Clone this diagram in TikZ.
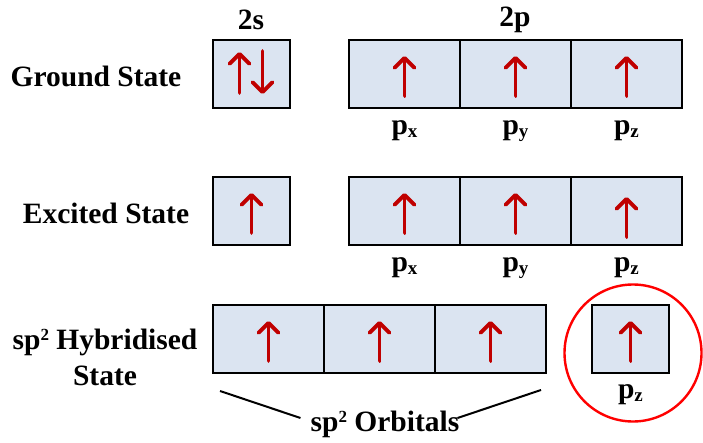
\documentclass[tikz,border=0pt]{standalone}
\usepackage{fontspec}
\setmainfont{Liberation Serif}
\usetikzlibrary{arrows.meta, positioning}
\definecolor{orbfill}{RGB}{219,228,241}
\definecolor{spinred}{RGB}{192,0,0}
\newcommand{\orbsub}[1]{\raisebox{-3pt}{\fontsize{19}{19}\selectfont #1}}
\newcommand{\orbsup}[1]{\raisebox{9pt}{\fontsize{17}{17}\selectfont #1}}
\tikzset{
  orbbox/.style={
    draw, line width=2.2pt, fill=orbfill, inner sep=0pt, outer sep=0pt,
    minimum width=111pt, minimum height=68pt
  },
  orbsingle/.style={orbbox, minimum width=77pt},
  statelabel/.style={
    font=\fontsize{29.5}{36}\selectfont\bfseries, align=center, inner sep=0pt
  },
  orblabel/.style={
    font=\fontsize{29.5}{36}\selectfont\bfseries, inner sep=0pt
  },
  spinarrow/.style={
    -{Straight Barb[length=10pt, width=20pt, round]}, line width=3.8pt,
    color=spinred, line cap=round
  },
  braceline/.style={line width=2pt},
}

\begin{document}
\begin{tikzpicture}[x=1pt, y=-1pt]
  \useasboundingbox (0,0) rectangle (703,443);

  % Headings
  \node[orblabel] (h2s) at (251,20) {2s};
  \node[orblabel] (h2p) at (515,20) {2p};

  % Ground state
  \node[statelabel] (gslbl) at (96,76) {Ground State};
  \node[orbsingle] (gs) at (251.5,74) {};
  \node[orbbox] (gpx) at (404.5,74) {};
  \node[orbbox, right=0pt of gpx] (gpy) {};
  \node[orbbox, right=0pt of gpy] (gpz) {};
  \draw[spinarrow] ([xshift=-12pt, yshift=-19pt]gs.center) -- ([xshift=-12pt, yshift=22pt]gs.center);
  \draw[spinarrow] ([xshift=11pt, yshift=23pt]gs.center) -- ([xshift=11pt, yshift=-20pt]gs.center);
  \foreach \c in {gpx, gpy, gpz}
    \draw[spinarrow] ([yshift=-22pt]\c.center) -- ([yshift=18pt]\c.center);
  \node[orblabel, below=12pt of gpx] (gpxl) {p\orbsub{x}};
  \node[orblabel, below=12pt of gpy] (gpyl) {p\orbsub{y}};
  \node[orblabel, below=12pt of gpz] (gpzl) {p\orbsub{z}};

  % Excited state
  \node[statelabel] (exlbl) at (106,213) {Excited State};
  \node[orbsingle] (es) at (251.5,211) {};
  \node[orbbox] (epx) at (404.5,211) {};
  \node[orbbox, right=0pt of epx] (epy) {};
  \node[orbbox, right=0pt of epy] (epz) {};
  \foreach \c in {es, epx, epy}
    \draw[spinarrow] ([yshift=-22pt]\c.center) -- ([yshift=18pt]\c.center);
  \draw[spinarrow] ([yshift=-26pt]epz.center) -- ([yshift=14pt]epz.center);
  \node[orblabel, below=12pt of epx] (epxl) {p\orbsub{x}};
  \node[orblabel, below=12pt of epy] (epyl) {p\orbsub{y}};
  \node[orblabel, below=12pt of epz] (epzl) {p\orbsub{z}};

  % sp2 hybridised state
  \node[statelabel] (hylbl) at (105,357) {sp\orbsup{2} Hybridised\\State};
  \node[orbbox] (sp1) at (268.5,339) {};
  \node[orbbox, right=0pt of sp1] (sp2) {};
  \node[orbbox, right=0pt of sp2] (sp3) {};
  \node[orbsingle] (hpz) at (630.5,339) {};
  \foreach \c in {sp1, sp2, sp3, hpz}
    \draw[spinarrow] ([yshift=-22pt]\c.center) -- ([yshift=18pt]\c.center);
  \node[orblabel, below=11pt of hpz] (hpzl) {p\orbsub{z}};
  \node[circle, draw=red, line width=2.4pt, minimum size=137pt] (ring) at (633,353) {};

  % sp2 orbitals label
  \node[orblabel] (orb) at (385,424) {sp\orbsup{2} Orbitals};
  \coordinate (bl) at (220,391);
  \coordinate (br) at (541,390);
  \draw[braceline] (bl) -- ([xshift=-10pt, yshift=6pt]orb.west);
  \draw[braceline] (br) -- ([xshift=-2pt, yshift=6pt]orb.east);
\end{tikzpicture}
\end{document}
